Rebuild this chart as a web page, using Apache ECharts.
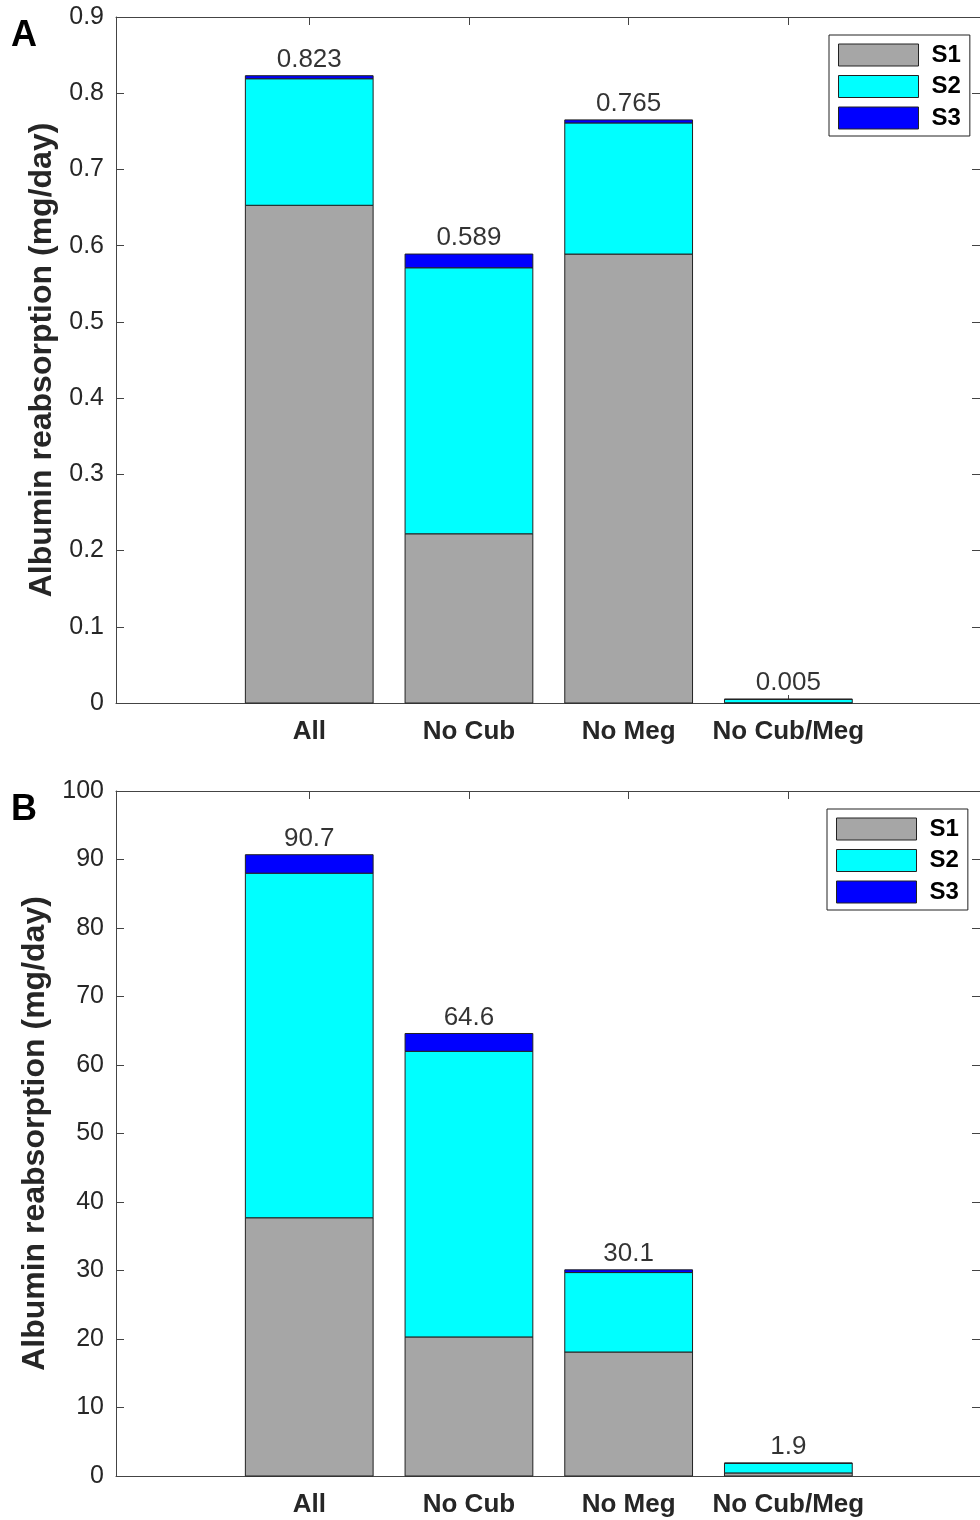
<!DOCTYPE html>
<html><head><meta charset="utf-8">
<script src="https://cdn.jsdelivr.net/npm/echarts@6/dist/echarts.min.js"></script>
<style>html,body{margin:0;padding:0;background:#fff}#c{width:980px;height:1520px}</style>
</head><body><div id="c"></div>
<script>
const categories = ['All', 'No Cub', 'No Meg', 'No Cub/Meg'];
const seriesNames = ['S1', 'S2', 'S3'];
const seriesColors = ['#a6a6a6', '#00ffff', '#0000ff'];

// Panel A (mg/day)
const aS1 = [0.653, 0.222, 0.589, 0.0003];
const aS2 = [0.166, 0.349, 0.172, 0.0045];
const aS3 = [0.004, 0.018, 0.004, 0.0002];
const aTotalLabels = ['0.823', '0.589', '0.765', '0.005'];
const aYTicks = [0, 0.1, 0.2, 0.3, 0.4, 0.5, 0.6, 0.7, 0.8, 0.9];

// Panel B (mg/day)
const bS1 = [37.7, 20.3, 18.1, 0.45];
const bS2 = [50.3, 41.7, 11.6, 1.40];
const bS3 = [2.7, 2.6, 0.4, 0.05];
const bTotalLabels = ['90.7', '64.6', '30.1', '1.9'];
const bYTicks = [0, 10, 20, 30, 40, 50, 60, 70, 80, 90, 100];

const FONT = 'Liberation Sans, Arial, Helvetica, sans-serif';
const AX = '#444';
const TXT = '#262626';
const positions = categories.map((_, i) => i + 1);
const HALF = 0.4;

function segData(layers, k) {
  return positions.map((x, i) => {
    let start = 0;
    for (let j = 0; j < k; j++) start += layers[j][i];
    return [x, start, start + layers[k][i]];
  });
}

function renderSeg(params, api) {
  const x = api.value(0), y0 = api.value(1), y1 = api.value(2);
  const p0 = api.coord([x - HALF, y1]);
  const p1 = api.coord([x + HALF, y0]);
  return {
    type: 'rect',
    shape: { x: p0[0], y: p0[1], width: p1[0] - p0[0], height: p1[1] - p0[1] },
    style: api.style()
  };
}

function panelSeries(layers, totalLabels, gi) {
  const out = layers.map((layer, k) => ({
    type: 'custom',
    name: seriesNames[k],
    xAxisIndex: gi * 2,
    yAxisIndex: gi * 2,
    renderItem: renderSeg,
    encode: { x: 0, y: [1, 2] },
    itemStyle: { color: seriesColors[k], borderColor: '#222', borderWidth: 1 },
    data: segData(layers, k),
    z: 2
  }));
  out.push({
    type: 'scatter',
    xAxisIndex: gi * 2,
    yAxisIndex: gi * 2,
    symbolSize: 0,
    silent: true,
    data: positions.map((x, i) => [x, layers[0][i] + layers[1][i] + layers[2][i]]),
    label: {
      show: true, position: 'top', distance: 3,
      formatter: p => totalLabels[p.dataIndex],
      fontFamily: FONT, fontSize: 26, color: '#000'
    },
    z: 3
  });
  return out;
}

function xAxes(gi) {
  const base = {
    type: 'value', gridIndex: gi, min: -0.21, max: 5.2,
    splitLine: { show: false },
    axisLine: { show: true, onZero: false, lineStyle: { color: AX, width: 1 } }
  };
  return [
    Object.assign({}, base, {
      position: 'bottom',
      axisTick: { show: true, inside: true, length: 8, lineStyle: { color: AX }, customValues: positions },
      axisLabel: {
        show: true, customValues: positions, margin: 16,
        formatter: v => categories[Math.round(v) - 1] || '',
        fontFamily: FONT, fontSize: 26, fontWeight: 'bold', color: TXT
      }
    }),
    Object.assign({}, base, {
      position: 'top',
      axisTick: { show: true, inside: true, length: 8, lineStyle: { color: AX }, customValues: positions },
      axisLabel: { show: false }
    })
  ];
}

function yAxes(gi, ticks, fmt) {
  const step = ticks[1] - ticks[0];
  const base = {
    type: 'value', gridIndex: gi, min: ticks[0], max: ticks[ticks.length - 1], interval: step,
    splitLine: { show: false },
    axisLine: { show: true, onZero: false, lineStyle: { color: AX, width: 1 } },
    axisTick: { show: true, inside: true, length: 8, lineStyle: { color: AX } }
  };
  return [
    Object.assign({}, base, {
      position: 'left',
      name: 'Albumin reabsorption (mg/day)',
      nameLocation: 'middle', nameGap: 58,
      nameTextStyle: { fontFamily: FONT, fontSize: 32, fontWeight: 'bold', color: TXT },
      axisLabel: { show: true, margin: 12, formatter: fmt, fontFamily: FONT, fontSize: 25, color: TXT }
    }),
    Object.assign({}, base, { position: 'right', axisLabel: { show: false } })
  ];
}

function legend(left, top) {
  return {
    orient: 'vertical', left: left, top: top,
    data: seriesNames,
    icon: 'rect', itemWidth: 80, itemHeight: 22, itemGap: 7.5,
    padding: [8, 9, 6, 9],
    borderColor: '#222', borderWidth: 1, backgroundColor: '#fff',
    itemStyle: { borderColor: '#222', borderWidth: 1 },
    textStyle: { fontFamily: FONT, fontSize: 24, fontWeight: 'bold', color: '#000', padding: [0, 0, 0, 8] },
    selectedMode: false
  };
}

const chart = echarts.init(document.getElementById('c'), null, { renderer: 'canvas' });
chart.setOption({
  backgroundColor: '#fff',
  animation: false,
  grid: [
    { left: 116, top: 17, width: 870, height: 686 },
    { left: 116, top: 791, width: 870, height: 685 }
  ],
  xAxis: xAxes(0).concat(xAxes(1)),
  yAxis: yAxes(0, aYTicks, v => (v === 0 ? '0' : v.toFixed(1)))
    .concat(yAxes(1, bYTicks, v => String(Math.round(v)))),
  legend: [legend(829, 35), legend(827, 809)],
  graphic: [
    { type: 'text', left: 11, top: 18, style: { text: 'A', fontFamily: FONT, fontSize: 36, fontWeight: 'bold', fill: '#000' } },
    { type: 'text', left: 11, top: 792, style: { text: 'B', fontFamily: FONT, fontSize: 36, fontWeight: 'bold', fill: '#000' } }
  ],
  series: panelSeries([aS1, aS2, aS3], aTotalLabels, 0)
    .concat(panelSeries([bS1, bS2, bS3], bTotalLabels, 1))
});
</script>
</body></html>
